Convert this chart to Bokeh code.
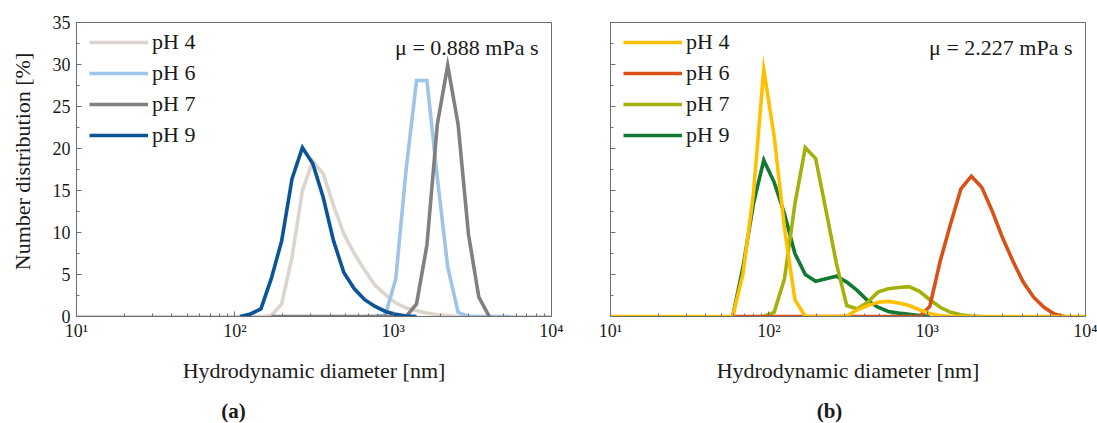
import numpy as np
from math import pi
from bokeh.plotting import figure
from bokeh.models import Legend, LegendItem, Label, FixedTicker, Range1d
from bokeh.layouts import row, column
from bokeh.embed import file_html
from bokeh.resources import INLINE

# ---------------- data (size bins in nm, number distribution in %) ----------------
diameter_nm = [9.65, 11.2, 13.1, 15.2, 17.7, 20.5, 23.9, 27.8, 32.3, 37.6, 43.7, 50.8,
               59.1, 68.7, 79.9, 92.9, 108.0, 125.6, 146.1, 169.9, 197.6, 229.8, 267.2,
               310.7, 361.4, 420.2, 488.7, 568.2, 660.8, 768.5, 893.6, 1039, 1209, 1405,
               1634, 1901, 2210, 2570, 2989, 3476, 4043, 4701, 5467, 6358, 7394, 8599, 10000]

N = None
# panel (a): mu = 0.888 mPa s
a_ph4 = [0]*19 + [0.1, 1.5, 7.1, 15.0, 18.5, 17.0, 13.2, 9.8, 7.5, 5.5, 3.7, 2.6, 1.6, 1.0,
                  0.7, 0.4, 0.2, 0.1] + [0]*10
a_ph6 = [N]*28 + [0, 0, 0.2, 4.5, 17.6, 28.1, 28.1, 16.5, 5.9, 0.5, 0, 0, 0, 0, 0] + [N]*4
a_ph7 = [N]*19 + [0]*14 + [1.5, 8.5, 22.9, 29.9, 22.9, 9.8, 2.3, 0] + [N]*6
a_ph9 = [N]*16 + [0, 0.3, 0.9, 4.5, 9.0, 16.4, 20.1, 18.2, 14.2, 9.0, 5.2, 3.3, 2.0, 1.2,
                  0.6, 0.25, 0.05, 0] + [N]*13

# panel (b): mu = 2.227 mPa s
b_ph4 = [0]*13 + [5.1, 14.6, 29.4, 21.5, 10.5, 2.0, 0, 0, 0, 0, 0.05, 0.8, 1.3, 1.7, 1.8,
                  1.6, 1.3, 0.8, 0.35, 0.1] + [0]*14
b_ph6 = [N]*12 + [0]*19 + [1.2, 6.6, 11.0, 15.2, 16.7, 15.4, 12.6, 9.4, 6.6, 4.1, 2.3, 1.1,
                           0.3, 0] + [N]*2
b_ph7 = [N]*15 + [0, 0.5, 4.5, 13.4, 20.1, 18.8, 12.6, 6.3, 1.3, 0.9, 1.7, 2.9, 3.3, 3.45,
                  3.55, 3.0, 2.0, 1.1, 0.5, 0.2, 0.05, 0] + [N]*10
b_ph9 = [N]*12 + [0, 5.9, 13.4, 18.6, 16.0, 12.2, 7.5, 5.0, 4.2, 4.5, 4.8, 4.1, 3.1, 1.9,
                  1.1, 0.6, 0.4, 0.25, 0.1, 0] + [N]*15

labels = ["pH 4", "pH 6", "pH 7", "pH 9"]
x_ticks = [10, 100, 1000, 10000]
x_tick_labels = ["10\u00b9", "10\u00b2", "10\u00b3", "10\u2074"]
y_ticks = [0, 5, 10, 15, 20, 25, 30, 35]
y_minor = [2.5, 7.5, 12.5, 17.5, 22.5, 27.5, 32.5]
x_minor = [m * 10 ** e for e in (1, 2, 3) for m in range(2, 10)]

FONT = "Liberation Serif"
AX = "#6e6e6e"
TXT = "#1a1a1a"

TOP_H = 393      # height of the row holding the two panels
STRIP_H = 30     # strip below holding the (a)/(b) tags
YLAB_W = 36      # narrow column holding the y-axis title


def arr(v):
    return np.array([np.nan if t is None else t for t in v], dtype=float)


def blank(w, h):
    f = figure(frame_width=w, frame_height=h, x_range=Range1d(0, 1), y_range=Range1d(0, 1),
               min_border=0, x_axis_location=None, y_axis_location=None,
               output_backend="svg", toolbar_location=None,
               background_fill_color="white", border_fill_color="white")
    f.outline_line_color = None
    f.xgrid.visible = False
    f.ygrid.visible = False
    return f


def make_panel(series, colors, draw_order, left_border, right_border, show_ylabels, mu_text):
    p = figure(x_axis_type="log", x_range=Range1d(10, 10000), y_range=Range1d(0, 35),
               frame_width=475, frame_height=294,
               min_border_left=left_border, min_border_right=right_border,
               min_border_top=22, min_border_bottom=TOP_H - 22 - 294,
               output_backend="svg", toolbar_location=None,
               background_fill_color="white", border_fill_color="white")
    p.xgrid.visible = False
    p.ygrid.visible = False
    p.outline_line_color = AX
    p.outline_line_width = 1

    renderers = {}
    for i in draw_order:
        r = p.line(diameter_nm, arr(series[i]), line_color=colors[i], line_width=3.6,
                   line_join="miter")
        renderers[i] = r

    for ax in (p.xaxis, p.yaxis):
        ax.axis_line_color = AX
        ax.major_tick_line_color = AX
        ax.minor_tick_line_color = AX
        ax.major_tick_in = 5
        ax.major_tick_out = 0
        ax.minor_tick_in = 3
        ax.minor_tick_out = 0
        ax.major_label_text_font = FONT
        ax.major_label_text_font_size = "18px"
        ax.major_label_text_color = TXT

    p.xaxis.ticker = FixedTicker(ticks=x_ticks, minor_ticks=x_minor)
    p.xaxis.major_label_overrides = {t: s for t, s in zip(x_ticks, x_tick_labels)}
    p.xaxis.major_label_standoff = 4
    p.xaxis.axis_label = "Hydrodynamic diameter [nm]"
    p.xaxis.axis_label_text_font = FONT
    p.xaxis.axis_label_text_font_size = "22px"
    p.xaxis.axis_label_text_font_style = "normal"
    p.xaxis.axis_label_text_color = TXT
    p.xaxis.axis_label_standoff = 14

    p.yaxis.ticker = FixedTicker(ticks=y_ticks, minor_ticks=y_minor)
    p.yaxis.major_label_standoff = 6
    if not show_ylabels:
        p.yaxis.major_label_overrides = {t: "" for t in y_ticks}

    items = [LegendItem(label=labels[i], renderers=[renderers[i]]) for i in range(4)]
    legend = Legend(items=items, location=(13, 168), border_line_color=None,
                    background_fill_alpha=0, label_text_font=FONT,
                    label_text_font_size="22px", label_text_color=TXT,
                    glyph_width=59, glyph_height=24, label_height=24, spacing=5,
                    padding=0, margin=0, label_standoff=4)
    p.add_layout(legend)

    p.add_layout(Label(x=462, y=269, x_units="screen", y_units="screen", text=mu_text,
                       text_align="right", text_baseline="middle", text_font=FONT,
                       text_font_size="22px", text_color=TXT))
    return p


colors_a = ["#dcd5ce", "#9dc5ea", "#808080", "#0b5597"]
colors_b = ["#ffc000", "#da5117", "#a3b10a", "#127a34"]

p1 = make_panel([a_ph4, a_ph6, a_ph7, a_ph9], colors_a, [0, 1, 2, 3], 76 - YLAB_W, 20, True,
                "\u03bc = 0.888 mPa s")
p2 = make_panel([b_ph4, b_ph6, b_ph7, b_ph9], colors_b, [3, 2, 1, 0], 39, 12, False,
                "\u03bc = 2.227 mPa s")

# y-axis title column
ylab = blank(YLAB_W, TOP_H)
ylab.add_layout(Label(x=22, y=TOP_H - 139, x_units="screen", y_units="screen",
                      text="Number distribution [%]", angle=pi / 2,
                      text_align="center", text_baseline="middle",
                      text_font=FONT, text_font_size="22px", text_color=TXT))

# sub-figure tags strip
tags = blank(1097, STRIP_H)
for t, tx in (("(a)", 233), ("(b)", 829)):
    tags.add_layout(Label(x=tx, y=13, x_units="screen", y_units="screen", text=t,
                          text_align="center", text_baseline="middle", text_font=FONT,
                          text_font_size="21px", text_font_style="bold", text_color=TXT))

layout = column(row(ylab, p1, p2, spacing=0), tags, spacing=0)
open("out.html", "w").write(file_html(layout, INLINE))
